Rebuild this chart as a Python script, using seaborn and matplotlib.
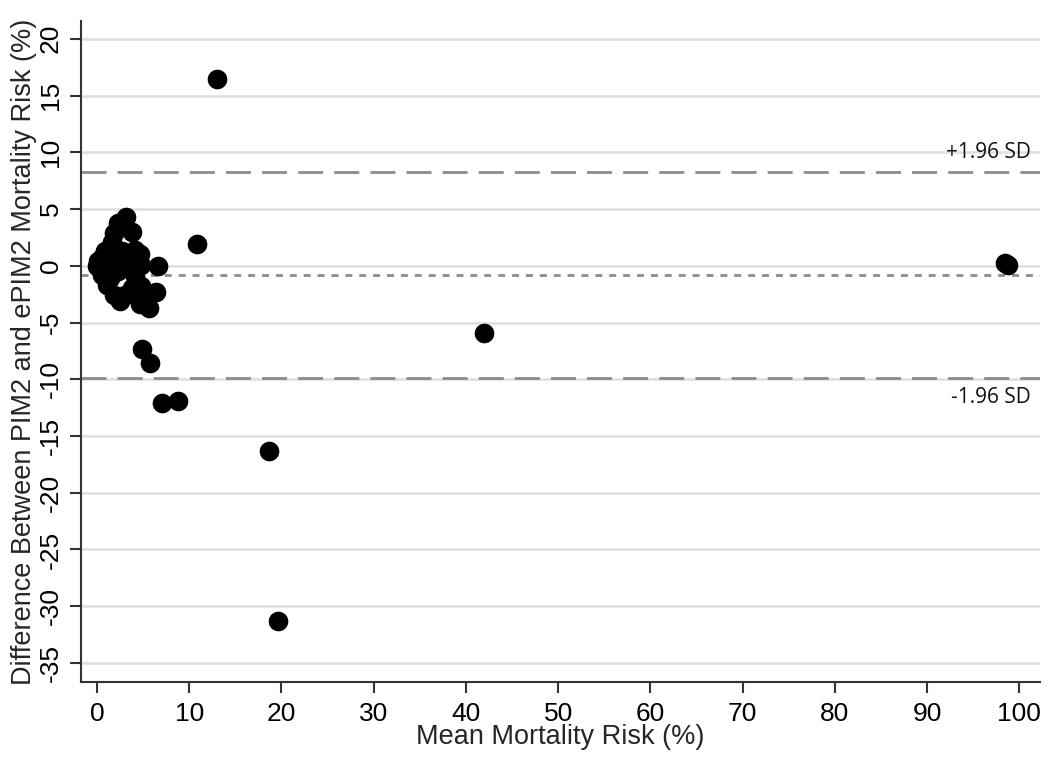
import matplotlib
matplotlib.use("Agg")
import matplotlib.pyplot as plt
import seaborn as sns
import pandas as pd

# Bland-Altman data
mean_risk = [13.0, 10.8, 42.0, 98.5, 98.8, 18.7, 19.6, 7.1, 8.8, 4.9, 5.7,
             6.6, 6.4, 5.2, 5.6, 4.7,
             3.1, 2.3, 3.75, 1.8, 1.6, 0.9, 0.15, 0.0, 0.5, 1.05, 1.8, 2.5,
             4.1, 4.7, 4.8, 2.3, 4.1, 3.75, 4.8, 3.0, 2.7, 3.4, 0.3, 1.2,
             2.0, 3.3, 0.7, 1.4]
diff_risk = [16.5, 1.9, -5.9, 0.2, 0.1, -16.3, -31.3, -12.1, -11.9, -7.3, -8.6,
             0.0, -2.3, -3.2, -3.7, -3.4,
             4.3, 3.8, 3.0, 2.9, 2.1, 1.3, 0.4, 0.0, -0.8, -1.7, -2.6, -3.1,
             1.4, 1.0, 0.1, -0.5, -0.9, -2.0, -1.8, -2.6, 1.3, 0.7, -0.3, 0.6,
             -0.2, -0.1, 0.9, -1.1]

mean_diff = -0.8
upper_loa = 8.3
lower_loa = -9.9
loa_labels = ["+1.96 SD", "-1.96 SD"]

x_ticks = list(range(0, 101, 10))
y_ticks = list(range(-35, 21, 5))

df = pd.DataFrame({"mean": mean_risk, "diff": diff_risk})

sns.set_style("white")
plt.rcParams["font.family"] = ["Liberation Sans", "DejaVu Sans"]

fig = plt.figure(figsize=(10.5, 7.64), dpi=100)
ax = fig.add_axes([0.077, 0.107, 0.913, 0.866])

for yv in y_ticks:
    ax.axhline(yv, color="#dedede", lw=1.8, zorder=0)

ax.axhline(upper_loa, color="#8c8c8c", lw=2, dashes=(9, 4), zorder=1)
ax.axhline(lower_loa, color="#8c8c8c", lw=2, dashes=(9, 4), zorder=1)
ax.axhline(mean_diff, color="#8c8c8c", lw=2, dashes=(2.5, 2.5), zorder=1)

sns.scatterplot(data=df, x="mean", y="diff", ax=ax, color="black",
                s=200, edgecolor="black", linewidth=0, zorder=3, legend=False)

ax.text(101.3, 10.0, loa_labels[0], ha="right", va="center", fontsize=15,
        family=["Open Sans", "DejaVu Sans"], color="#111111")
ax.text(101.3, -11.65, loa_labels[1], ha="right", va="center", fontsize=15,
        family=["Open Sans", "DejaVu Sans"], color="#111111")

ax.set_xlim(-1.75, 102.2)
ax.set_ylim(-36.7, 21.6)
ax.set_xticks(x_ticks)
ax.set_yticks(y_ticks)
ax.set_xticklabels([str(v) for v in x_ticks], fontsize=19)
ax.set_yticklabels([str(v) for v in y_ticks], fontsize=19, rotation=90, va="center")

ax.set_xlabel("Mean Mortality Risk (%)", fontsize=19.5, labelpad=-1)
ax.set_ylabel("Difference Between PIM2 and ePIM2 Mortality Risk (%)", fontsize=19.5, labelpad=1)

for side in ["top", "right"]:
    ax.spines[side].set_visible(False)
for side in ["left", "bottom"]:
    ax.spines[side].set_color("#333333")
    ax.spines[side].set_linewidth(1.5)
ax.tick_params(axis="both", direction="out", length=8, width=1.5, color="#333333",
               left=True, bottom=True, labelcolor="black")
ax.tick_params(axis="x", pad=6)
ax.tick_params(axis="y", pad=5)

fig.savefig("out.png", dpi=100)
